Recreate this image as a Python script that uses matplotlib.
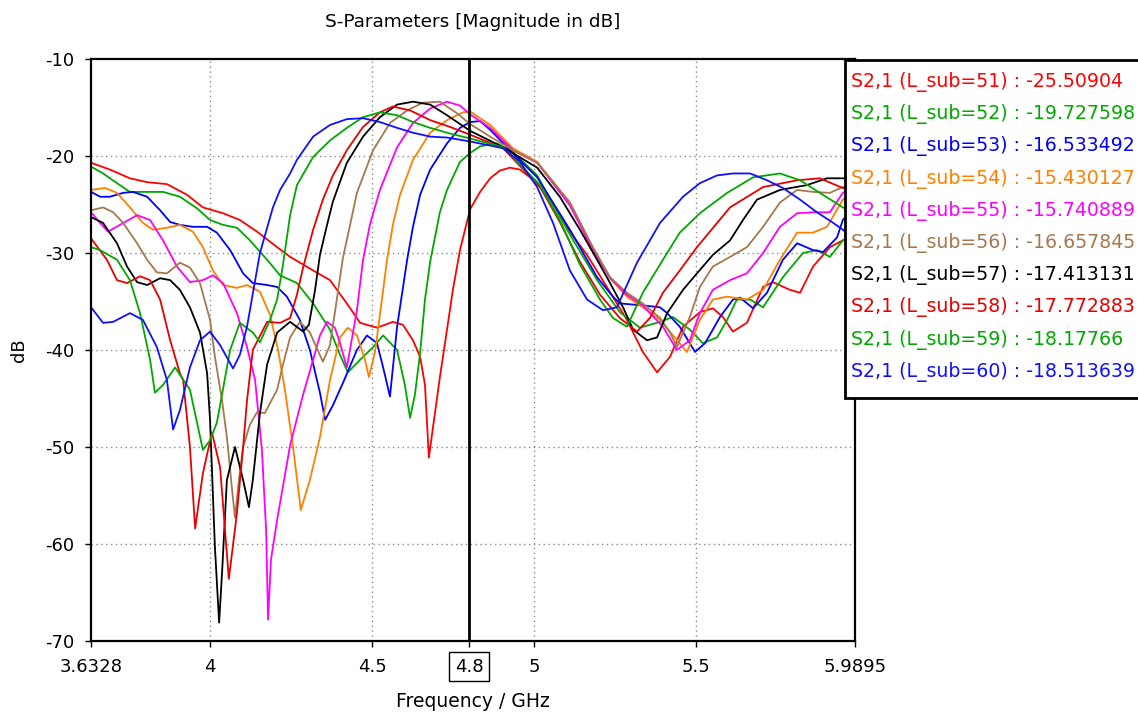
import matplotlib
matplotlib.use("Agg")
import matplotlib.pyplot as plt
from matplotlib.patches import Rectangle

# ---------------- data ----------------
f51 = [3.633, 3.691, 3.753, 3.806, 3.867, 3.929, 3.978, 4.040, 4.092, 4.145, 4.207, 4.247, 4.318, 4.370,
       4.422, 4.463, 4.515, 4.564, 4.595, 4.626, 4.648, 4.663, 4.675, 4.688, 4.709, 4.731, 4.749, 4.771,
       4.802, 4.833, 4.864, 4.894, 4.925, 4.956, 4.987, 5.018, 5.049, 5.079, 5.110, 5.163, 5.224, 5.286,
       5.335, 5.379, 5.419, 5.459, 5.511, 5.551, 5.582, 5.613, 5.656, 5.706, 5.736, 5.789, 5.820, 5.860,
       5.912, 5.952, 5.990]
db51 = [-20.7, -21.4, -22.3, -22.7, -22.9, -24.0, -25.3, -25.9, -26.6, -27.8, -29.4, -30.4, -31.8, -32.8,
        -35.2, -37.2, -37.7, -37.1, -37.4, -39.0, -40.7, -43.6, -51.1, -47.9, -42.8, -37.9, -33.8, -29.7,
        -25.5, -23.7, -22.3, -21.5, -21.2, -21.4, -22.2, -23.2, -24.5, -26.1, -27.8, -30.2, -33.5, -36.9,
        -40.2, -42.3, -40.7, -37.6, -36.1, -35.7, -36.6, -38.1, -37.2, -33.5, -33.0, -33.8, -34.1, -31.4,
        -29.4, -28.7, -28.5]

f52 = [3.633, 3.670, 3.713, 3.753, 3.815, 3.855, 3.907, 3.960, 4.000, 4.040, 4.083, 4.123, 4.176, 4.216,
       4.268, 4.318, 4.370, 4.401, 4.425, 4.463, 4.503, 4.534, 4.577, 4.601, 4.617, 4.632, 4.648, 4.663,
       4.679, 4.709, 4.731, 4.771, 4.802, 4.833, 4.885, 4.934, 5.009, 5.110, 5.194, 5.264, 5.326, 5.388,
       5.428, 5.480, 5.520, 5.564, 5.595, 5.625, 5.666, 5.706, 5.767, 5.829, 5.872, 5.912, 5.952, 5.990]
db52 = [-21.1, -21.8, -22.8, -23.7, -23.7, -23.7, -24.2, -25.4, -26.6, -27.1, -27.4, -28.7, -30.7, -32.3,
        -33.1, -35.2, -37.9, -40.5, -42.3, -41.0, -39.7, -38.5, -40.0, -43.6, -47.0, -44.6, -40.3, -34.8,
        -30.9, -25.8, -23.5, -20.6, -19.7, -19.0, -18.7, -19.6, -22.0, -28.1, -32.8, -36.1, -37.7, -37.1,
        -36.6, -37.9, -39.3, -38.7, -36.9, -34.8, -34.8, -35.6, -32.5, -30.0, -29.7, -30.4, -28.7, -27.8]

f53 = [3.633, 3.661, 3.691, 3.732, 3.762, 3.806, 3.846, 3.877, 3.907, 3.947, 3.991, 4.021, 4.062, 4.102,
       4.132, 4.176, 4.207, 4.237, 4.277, 4.308, 4.339, 4.355, 4.379, 4.410, 4.453, 4.484, 4.515, 4.534,
       4.555, 4.577, 4.608, 4.626, 4.648, 4.679, 4.731, 4.771, 4.802, 4.833, 4.864, 4.934, 5.009, 5.110,
       5.194, 5.243, 5.264, 5.335, 5.388, 5.410, 5.449, 5.496, 5.527, 5.573, 5.613, 5.635, 5.675, 5.718,
       5.767, 5.811, 5.860, 5.891, 5.934, 5.952, 5.990]
db53 = [-23.7, -24.2, -24.2, -23.8, -23.7, -24.2, -25.6, -26.8, -27.1, -27.3, -27.3, -27.9, -29.7, -32.1,
        -33.1, -33.3, -33.5, -34.5, -36.9, -40.0, -44.4, -47.2, -45.7, -43.4, -40.0, -38.5, -39.3, -41.8,
        -44.8, -37.6, -30.7, -27.3, -24.0, -21.4, -18.7, -17.1, -16.5, -16.4, -17.3, -19.7, -22.2, -27.6,
        -32.5, -34.5, -35.2, -35.4, -35.6, -36.2, -37.6, -40.2, -39.3, -36.6, -34.8, -34.6, -35.7, -34.1,
        -30.7, -29.0, -29.7, -29.9, -28.4, -26.6, -25.1]

f54 = [3.633, 3.676, 3.713, 3.753, 3.793, 3.824, 3.867, 3.907, 3.947, 3.978, 4.009, 4.040, 4.083, 4.114,
       4.154, 4.185, 4.210, 4.231, 4.256, 4.280, 4.308, 4.339, 4.370, 4.401, 4.425, 4.453, 4.478, 4.490,
       4.509, 4.524, 4.546, 4.564, 4.586, 4.626, 4.679, 4.731, 4.780, 4.802, 4.864, 4.934, 5.009, 5.110,
       5.181, 5.234, 5.286, 5.335, 5.388, 5.428, 5.471, 5.511, 5.551, 5.595, 5.656, 5.706, 5.758, 5.811,
       5.860, 5.903, 5.952, 5.990]
db54 = [-23.5, -23.3, -23.8, -25.3, -26.9, -27.6, -27.4, -27.1, -27.8, -29.4, -31.8, -33.3, -33.6, -33.3,
        -34.0, -36.4, -40.0, -44.1, -50.0, -56.5, -53.4, -49.0, -43.1, -38.7, -37.7, -38.5, -41.0, -42.8,
        -40.2, -36.4, -30.7, -27.1, -24.0, -20.4, -17.6, -16.3, -15.5, -15.4, -16.8, -19.2, -20.6, -24.8,
        -29.5, -32.6, -34.5, -35.6, -36.9, -38.5, -40.2, -36.9, -34.8, -34.5, -34.8, -33.8, -30.7, -27.9,
        -27.9, -27.3, -24.5, -23.5]

f55 = [3.633, 3.661, 3.685, 3.722, 3.775, 3.815, 3.855, 3.898, 3.938, 3.978, 4.009, 4.040, 4.083, 4.114,
       4.139, 4.160, 4.173, 4.179, 4.188, 4.207, 4.247, 4.287, 4.318, 4.339, 4.361, 4.385, 4.401, 4.422,
       4.453, 4.472, 4.493, 4.524, 4.577, 4.626, 4.679, 4.731, 4.771, 4.802, 4.864, 4.934, 5.009, 5.110,
       5.181, 5.234, 5.286, 5.335, 5.397, 5.440, 5.480, 5.511, 5.551, 5.604, 5.656, 5.706, 5.758, 5.811,
       5.860, 5.912, 5.952, 5.990]
db55 = [-25.8, -26.9, -27.8, -27.1, -26.1, -26.6, -28.7, -31.4, -33.0, -32.8, -32.3, -33.1, -36.2, -39.7,
        -43.1, -50.3, -58.6, -67.8, -61.6, -57.5, -49.8, -44.6, -41.0, -38.5, -37.1, -37.7, -39.3, -41.8,
        -35.9, -30.7, -27.1, -23.5, -19.1, -16.6, -15.1, -14.4, -14.8, -15.7, -17.1, -19.4, -20.7, -25.1,
        -29.7, -32.6, -34.3, -35.4, -37.6, -40.0, -39.0, -36.2, -33.8, -32.8, -32.1, -30.0, -27.3, -25.9,
        -25.8, -25.8, -23.8, -23.0]

f56 = [3.633, 3.670, 3.701, 3.732, 3.775, 3.806, 3.836, 3.867, 3.907, 3.938, 3.969, 4.000, 4.015, 4.037,
       4.052, 4.068, 4.077, 4.089, 4.102, 4.123, 4.145, 4.169, 4.207, 4.225, 4.247, 4.277, 4.308, 4.348,
       4.370, 4.391, 4.410, 4.432, 4.453, 4.503, 4.555, 4.608, 4.657, 4.709, 4.762, 4.802, 4.864, 4.934,
       5.009, 5.110, 5.181, 5.234, 5.286, 5.335, 5.388, 5.419, 5.440, 5.480, 5.511, 5.551, 5.604, 5.656,
       5.706, 5.758, 5.811, 5.860, 5.912, 5.952, 5.990]
db56 = [-25.6, -25.3, -25.8, -26.9, -29.0, -30.7, -32.0, -32.1, -31.0, -31.5, -33.1, -36.9, -40.7, -45.2,
        -49.0, -54.4, -57.3, -53.4, -50.0, -47.7, -46.4, -46.5, -44.1, -41.5, -38.7, -37.1, -38.2, -41.2,
        -39.5, -34.8, -30.5, -27.1, -23.8, -19.4, -16.6, -15.3, -14.5, -14.4, -15.6, -16.7, -18.0, -19.4,
        -20.7, -24.8, -29.4, -32.5, -34.1, -35.2, -36.7, -38.2, -39.7, -36.6, -33.5, -31.4, -30.4, -29.4,
        -27.3, -24.8, -23.5, -23.7, -23.8, -23.2, -23.0]

f57 = [3.633, 3.670, 3.713, 3.744, 3.775, 3.806, 3.846, 3.877, 3.907, 3.938, 3.969, 3.991, 4.000, 4.015,
       4.028, 4.037, 4.052, 4.077, 4.102, 4.120, 4.132, 4.154, 4.176, 4.207, 4.247, 4.287, 4.305, 4.324,
       4.339, 4.361, 4.379, 4.422, 4.472, 4.524, 4.577, 4.626, 4.679, 4.731, 4.802, 4.904, 5.009, 5.079,
       5.141, 5.194, 5.234, 5.274, 5.305, 5.348, 5.379, 5.410, 5.459, 5.502, 5.551, 5.604, 5.644, 5.687,
       5.758, 5.841, 5.903, 5.952, 5.990]
db57 = [-26.3, -26.9, -29.0, -31.4, -33.0, -33.3, -32.6, -32.8, -33.8, -35.6, -38.2, -42.4, -47.2, -60.3,
        -68.1, -63.0, -53.4, -50.0, -53.4, -56.2, -53.4, -46.5, -41.5, -38.2, -37.1, -38.1, -37.4, -33.8,
        -30.2, -27.1, -24.7, -20.7, -18.0, -16.0, -14.7, -14.4, -14.7, -15.8, -17.4, -19.1, -21.2, -24.2,
        -27.6, -30.7, -33.1, -35.6, -37.9, -39.0, -38.7, -36.2, -33.8, -32.1, -30.2, -28.7, -26.6, -24.5,
        -23.5, -23.0, -22.3, -22.3, -22.3]

f58 = [3.633, 3.682, 3.713, 3.744, 3.784, 3.815, 3.846, 3.877, 3.907, 3.917, 3.938, 3.954, 3.978, 4.006,
       4.031, 4.058, 4.083, 4.102, 4.114, 4.132, 4.176, 4.216, 4.247, 4.268, 4.287, 4.318, 4.348, 4.379,
       4.422, 4.472, 4.524, 4.564, 4.617, 4.679, 4.740, 4.802, 4.904, 5.018, 5.079, 5.141, 5.203, 5.264,
       5.317, 5.357, 5.397, 5.449, 5.502, 5.604, 5.706, 5.811, 5.881, 5.952, 5.990]
db58 = [-28.5, -30.7, -32.8, -33.1, -32.4, -32.8, -34.8, -39.0, -42.4, -43.1, -50.0, -58.4, -52.7, -48.5,
        -52.1, -63.6, -56.8, -50.0, -45.2, -40.0, -37.1, -37.2, -36.7, -34.3, -31.5, -27.6, -24.5, -22.0,
        -19.4, -17.0, -15.5, -14.9, -15.3, -16.3, -17.0, -17.8, -19.2, -23.2, -26.8, -30.9, -34.3, -36.7,
        -38.1, -36.7, -34.1, -31.8, -29.4, -25.3, -23.2, -22.5, -22.3, -23.3, -23.8]

f59 = [3.633, 3.661, 3.713, 3.753, 3.784, 3.815, 3.830, 3.855, 3.892, 3.938, 3.978, 4.000, 4.021, 4.062,
       4.092, 4.132, 4.154, 4.185, 4.207, 4.225, 4.247, 4.268, 4.318, 4.370, 4.422, 4.472, 4.524, 4.577,
       4.626, 4.679, 4.731, 4.802, 4.904, 5.018, 5.079, 5.141, 5.203, 5.243, 5.286, 5.335, 5.397, 5.449,
       5.511, 5.595, 5.675, 5.758, 5.820, 5.881, 5.952, 5.990]
db59 = [-29.4, -29.7, -30.7, -32.8, -36.2, -41.0, -44.4, -43.6, -41.8, -44.1, -50.3, -49.3, -47.5, -40.0,
        -37.2, -38.2, -39.2, -36.9, -34.8, -31.2, -26.1, -23.0, -20.1, -18.4, -17.1, -16.0, -15.5, -15.8,
        -16.5, -17.1, -17.6, -18.2, -19.1, -23.0, -26.6, -31.2, -34.8, -36.7, -37.6, -34.1, -30.7, -27.9,
        -25.9, -23.8, -22.2, -21.8, -22.5, -23.8, -25.3, -25.9]

f60 = [3.633, 3.670, 3.701, 3.753, 3.793, 3.836, 3.867, 3.886, 3.907, 3.938, 3.969, 4.000, 4.031, 4.071,
       4.092, 4.114, 4.154, 4.194, 4.216, 4.247, 4.268, 4.318, 4.370, 4.422, 4.472, 4.524, 4.577, 4.626,
       4.679, 4.731, 4.802, 4.904, 4.956, 5.009, 5.058, 5.110, 5.163, 5.212, 5.255, 5.317, 5.388, 5.459,
       5.511, 5.564, 5.613, 5.666, 5.718, 5.767, 5.820, 5.872, 5.918, 5.952, 5.990]
db60 = [-35.6, -37.2, -37.1, -36.2, -36.9, -39.7, -43.1, -48.2, -46.2, -41.8, -39.0, -38.1, -39.5, -41.9,
        -40.5, -37.6, -30.0, -25.3, -23.5, -21.8, -20.4, -18.0, -16.8, -16.2, -16.1, -16.5, -17.1, -17.6,
        -18.0, -18.1, -18.5, -19.2, -20.6, -23.2, -26.9, -31.8, -34.8, -35.9, -35.6, -31.0, -26.9, -24.2,
        -22.8, -22.0, -21.8, -21.8, -22.5, -23.3, -24.5, -25.8, -26.8, -27.6, -28.7]

l_sub = [51, 52, 53, 54, 55, 56, 57, 58, 59, 60]
values_at_cursor = ["-25.50904", "-19.727598", "-16.533492", "-15.430127", "-15.740889",
                    "-16.657845", "-17.413131", "-17.772883", "-18.17766", "-18.513639"]
freqs = [f51, f52, f53, f54, f55, f56, f57, f58, f59, f60]
mags = [db51, db52, db53, db54, db55, db56, db57, db58, db59, db60]
colors = ["#ff0000", "#00a800", "#0000ff", "#ff8000", "#ff00ff",
          "#a5784f", "#000000", "#e80000", "#00a800", "#1010ff"]

x_ticks = [3.6328, 4, 4.5, 4.8, 5, 5.5, 5.9895]
x_tick_labels = ["3.6328", "4", "4.5", "4.8", "5", "5.5", "5.9895"]
y_ticks = [-70, -60, -50, -40, -30, -20, -10]
cursor_f = 4.8

# ---------------- figure ----------------
W, H = 1138, 713
fig = plt.figure(figsize=(W / 100, H / 100), dpi=100)
ax = fig.add_axes([91 / W, 1 - 641 / H, 764 / W, 582 / H])

for f, m, c in zip(freqs, mags, colors):
    ax.plot(f, m, color=c, lw=1.3, solid_joinstyle="round")

ax.axvline(cursor_f, color="black", lw=2.0, zorder=5)

ax.set_xlim(3.6328, 5.9895)
ax.set_ylim(-70, -10)
ax.set_xticks(x_ticks)
ax.set_xticklabels(x_tick_labels, fontsize=13)
ax.set_yticks(y_ticks)
ax.set_yticklabels([str(v) for v in y_ticks], fontsize=13)
ax.tick_params(axis="both", direction="out", length=4, width=1, pad=8)
for lab in ax.get_xticklabels():
    if lab.get_text() == "4.8":
        lab.set_bbox(dict(facecolor="white", edgecolor="black", lw=1, pad=4))

for xv in [4, 4.5, 5, 5.5]:
    ax.axvline(xv, color="#8a8a8a", lw=1, ls=(0, (1, 2.5)), zorder=0)
for yv in [-20, -30, -40, -50, -60]:
    ax.axhline(yv, color="#8a8a8a", lw=1, ls=(0, (1, 2.5)), zorder=0)

for s in ax.spines.values():
    s.set_linewidth(1.6)
    s.set_color("black")

ax.set_xlabel("Frequency / GHz", fontsize=13.5, labelpad=12)
ax.set_ylabel("dB", fontsize=13, labelpad=12)
fig.text(473 / W, 1 - 22 / H, "S-Parameters [Magnitude in dB]", ha="center", va="center", fontsize=13.3)

# legend box (extends past the right edge)
rect = Rectangle((845 / W, 1 - 398 / H), 0.3, (398 - 60) / H, transform=fig.transFigure,
                 facecolor="white", edgecolor="black", lw=2, zorder=20)
fig.add_artist(rect)
for i, (ls_, val, c) in enumerate(zip(l_sub, values_at_cursor, colors)):
    ypx = 82 + 32.2 * i
    fig.text(851 / W, 1 - ypx / H, f"S2,1 (L_sub={ls_}) : {val}", color=c, fontsize=13.6,
             ha="left", va="center", zorder=21)

fig.savefig("out.png", dpi=100)
